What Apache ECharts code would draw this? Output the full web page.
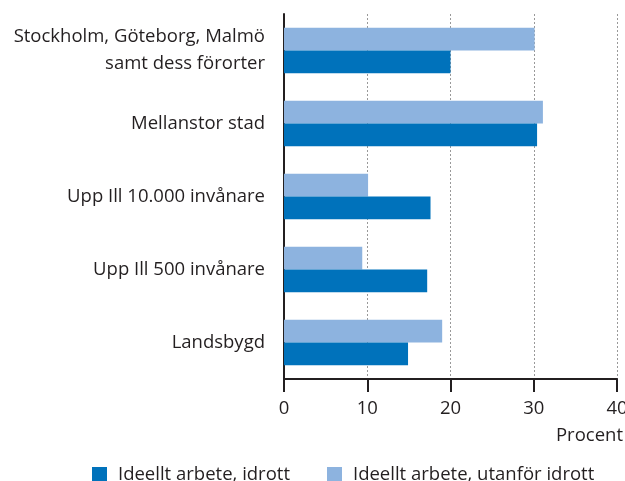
<!DOCTYPE html>
<html><head><meta charset="utf-8">
<script src="https://cdn.jsdelivr.net/npm/echarts@6/dist/echarts.min.js"></script>
<style>html,body{margin:0;padding:0;background:#fff}#c{width:625px;height:481px}</style>
</head><body><div id="c"></div>
<script>
const categories = ["Stockholm, Göteborg, Malmö\nsamt dess förorter", "Mellanstor stad", "Upp Ill 10.000 invånare", "Upp Ill 500 invånare", "Landsbygd"];
const seriesNames = ["Ideellt arbete, idrott", "Ideellt arbete, utanför idrott"];
const idrott = [20.0, 30.4, 17.6, 17.2, 14.9];
const utanfor = [30.1, 31.1, 10.1, 9.4, 19.0];
const xTicks = [0, 10, 20, 30, 40];
const axisName = "Procent";

const FONT = "Open Sans";
const FS = 18.5;
const TXT = "#231f20";
const chart = echarts.init(document.getElementById('c'));
chart.setOption({
  animation: false,
  textStyle: {fontFamily: FONT},
  grid: {left: 284, right: 8, top: 14, bottom: 102, containLabel: false, outerBoundsMode: 'none'},
  legend: {
    data: seriesNames, left: 92, top: 465, padding: 0, icon: 'rect', itemWidth: 15, itemHeight: 15, itemGap: 37,
    textStyle: {fontFamily: FONT, fontSize: FS, color: TXT, padding: [0,0,0,6]}
  },
  xAxis: {
    type: 'value', min: xTicks[0], max: xTicks[xTicks.length-1], interval: 10,
    axisLine: {show: true, lineStyle: {color: TXT, width: 2}},
    axisTick: {show: true, length: 13, lineStyle: {color: TXT, width: 2}},
    axisLabel: {fontFamily: FONT, fontSize: FS, color: TXT, margin: 20},
    splitLine: {show: true, lineStyle: {color: '#999', type: [2, 2], width: 1}}
  },
  yAxis: {
    type: 'category', data: categories, inverse: true,
    axisLine: {show: true, lineStyle: {color: TXT, width: 2}},
    axisTick: {show: false},
    axisLabel: {fontFamily: FONT, fontSize: FS, color: TXT, margin: 19, lineHeight: 27, align: 'right'}
  },
  graphic: [{type: 'text', right: 2, top: 426, style: {text: axisName, font: FS + 'px "Open Sans"', fill: TXT}}],
  series: [
    {name: seriesNames[1], type: 'bar', data: utanfor, itemStyle: {color: '#8db3df'}, barGap: '0%', barCategoryGap: '38%'},
    {name: seriesNames[0], type: 'bar', data: idrott, itemStyle: {color: '#0072bb'}, barGap: '0%', barCategoryGap: '38%'}
  ]
});
</script></body></html>
